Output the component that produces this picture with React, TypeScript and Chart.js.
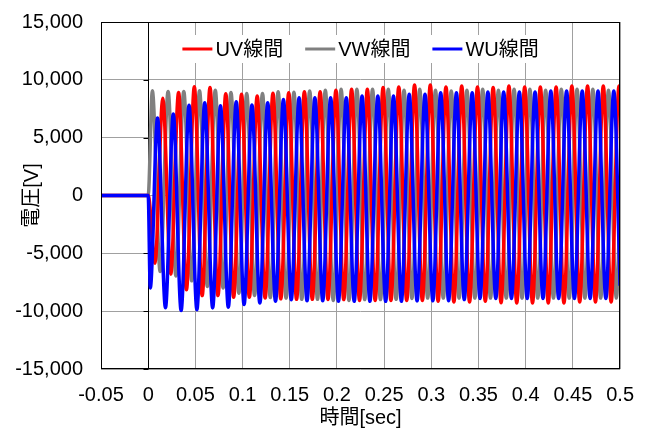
import React, { useEffect, useRef } from 'react';
import { Chart, registerables } from 'chart.js';

Chart.register(...registerables);

const FONT = "'Liberation Sans', 'Noto Sans CJK JP', Arial, sans-serif";

const seriesLabels = ['UV線間', 'VW線間', 'WU線間'];
const seriesColors = ['#FF0000', '#808080', '#0000FF'];

const xTickLabels = ['-0.05', '0', '0.05', '0.1', '0.15', '0.2', '0.25', '0.3', '0.35', '0.4', '0.45', '0.5'];
const yTickLabels = ['-15,000', '-10,000', '-5,000', '0', '5,000', '10,000', '15,000'];
const xAxisTitle = '時間[sec]';
const yAxisTitle = '電圧[V]';

// UV line-to-line voltage: times of turning points (s) and values (V)
const uvTimes = [-0.05, 0,
  0.0072, 0.0155, 0.0239, 0.0322, 0.0405, 0.0489, 0.0572, 0.0655, 0.0739, 0.0822,
  0.0905, 0.0989, 0.1072, 0.1155, 0.1239, 0.1322, 0.1405, 0.1489, 0.1572, 0.1655,
  0.1739, 0.1822, 0.1905, 0.1989, 0.2072, 0.2155, 0.2239, 0.2322, 0.2405, 0.2489,
  0.2572, 0.2655, 0.2739, 0.2822, 0.2905, 0.2989, 0.3072, 0.3155, 0.3239, 0.3322,
  0.3405, 0.3489, 0.3572, 0.3655, 0.3739, 0.3822, 0.3905, 0.3989, 0.4072, 0.4155,
  0.4239, 0.4322, 0.4405, 0.4489, 0.4572, 0.4655, 0.4739, 0.4822, 0.4905, 0.4989,
  0.5];
const uvValues = [0, 0,
  -5850, 8400, -6800, 8900, -8150, 9400, -8650, 9330, -8650, 8800,
  -8800, 8750, -8800, 8600, -8870, 8840, -8930, 8890, -8980, 8980,
  -8980, 8980, -8990, 9100, -9000, 9180, -9080, 9180, -9080, 9330,
  -9080, 9390, -9080, 9560, -9080, 9560, -9150, 9390, -9200, 9470,
  -9200, 9390, -9150, 9330, -9280, 9470, -9300, 9390, -9300, 9390,
  -9300, 9390, -9300, 9470, -9200, 9470, -9200, 9470, -9200, 9470,
  9460];

// VW line-to-line voltage
const vwTimes = [-0.05, 0,
  0.0044, 0.0127, 0.0211, 0.0294, 0.0377, 0.0461, 0.0544, 0.0627, 0.0711, 0.0794,
  0.0877, 0.0961, 0.1044, 0.1127, 0.1211, 0.1294, 0.1377, 0.1461, 0.1544, 0.1627,
  0.1711, 0.1794, 0.1877, 0.1961, 0.2044, 0.2127, 0.2211, 0.2294, 0.2377, 0.2461,
  0.2544, 0.2627, 0.2711, 0.2794, 0.2877, 0.2961, 0.3044, 0.3127, 0.3211, 0.3294,
  0.3377, 0.3461, 0.3544, 0.3627, 0.3711, 0.3794, 0.3877, 0.3961, 0.4044, 0.4127,
  0.4211, 0.4294, 0.4377, 0.4461, 0.4544, 0.4627, 0.4711, 0.4794, 0.4877, 0.4961,
  0.5];
const vwValues = [0, 0,
  9050, -6580, 9000, -6950, 9000, -7380, 9050, -7870, 9100, -8000,
  8900, -8450, 8820, -8650, 8820, -8820, 8960, -8870, 8920, -8980,
  9040, -8980, 9100, -9080, 9180, -9080, 9180, -9000, 9180, -9000,
  9180, -8980, 9100, -8900, 9180, -8870, 9100, -8870, 9040, -8870,
  9100, -8870, 9180, -8870, 9100, -8870, 9180, -8870, 9180, -8870,
  9100, -8870, 9180, -8870, 9180, -8870, 9180, -8870, 9100, -8870,
  -750];

// WU line-to-line voltage
const wuTimes = [-0.05, 0,
  0.0022, 0.0099, 0.0183, 0.0266, 0.0349, 0.0433, 0.0516, 0.0599, 0.0683, 0.0766,
  0.0849, 0.0933, 0.1016, 0.1099, 0.1183, 0.1266, 0.1349, 0.1433, 0.1516, 0.1599,
  0.1683, 0.1766, 0.1849, 0.1933, 0.2016, 0.2099, 0.2183, 0.2266, 0.2349, 0.2433,
  0.2516, 0.2599, 0.2683, 0.2766, 0.2849, 0.2933, 0.3016, 0.3099, 0.3183, 0.3266,
  0.3349, 0.3433, 0.3516, 0.3599, 0.3683, 0.3766, 0.3849, 0.3933, 0.4016, 0.4099,
  0.4183, 0.4266, 0.4349, 0.4433, 0.4516, 0.4599, 0.4683, 0.4766, 0.4849, 0.4933,
  0.5];
const wuValues = [0, 0,
  -8000, 6700, -9700, 7050, -9950, 7800, -9870, 8020, -9720, 7750,
  -9660, 8100, -9430, 7820, -9300, 8020, -9150, 8300, -9010, 8450,
  -9100, 8450, -9100, 8450, -9150, 8450, -9150, 8600, -9150, 8600,
  -9150, 8600, -9150, 8750, -9100, 8750, -9100, 8880, -9100, 8880,
  -9000, 8880, -8900, 8950, -8900, 8950, -8900, 8950, -8900, 8950,
  -8900, 9030, -8900, 9030, -8900, 9030, -8900, 9030, -8900, 9030,
  -7800];

const seriesTimes = [uvTimes, vwTimes, wuTimes];
const seriesValues = [uvValues, vwValues, wuValues];
const drawOrder = [1, 2, 0];

const framePlugin = {
  id: 'frame',
  beforeDatasetsDraw(chart: any) {
    const { ctx, chartArea: a, scales } = chart;
    const xs = scales.x;
    const ys = scales.y;
    const x0 = Math.round(xs.getPixelForValue(0)) + 0.5;
    ctx.save();
    ctx.strokeStyle = '#000000';
    ctx.lineWidth = 1;
    ctx.beginPath();
    ctx.moveTo(x0, a.top);
    ctx.lineTo(x0, a.bottom);
    ys.ticks.forEach((t: any) => {
      const py = Math.round(ys.getPixelForValue(t.value)) + 0.5;
      ctx.moveTo(x0 - 5, py);
      ctx.lineTo(x0, py);
    });
    ctx.stroke();
    ctx.restore();
  },
  afterDraw(chart: any) {
    const { ctx, chartArea: a } = chart;
    ctx.save();
    ctx.strokeStyle = '#000000';
    ctx.lineWidth = 1;
    ctx.strokeRect(Math.round(a.left) + 0.5, Math.round(a.top) + 0.5,
      Math.round(a.right - a.left) - 1, Math.round(a.bottom - a.top) - 1);

    // legend
    ctx.font = `20px ${FONT}`;
    const lineLen = 30;
    const textGap = 3;
    const itemGap = 22;
    const widths = seriesLabels.map((l) => ctx.measureText(l).width);
    const total = widths.reduce((s, w) => s + lineLen + textGap + w, 0) + itemGap * (seriesLabels.length - 1);
    let cx = (a.left + a.right) / 2 - total / 2;
    const cy = a.top + 27;
    ctx.fillStyle = '#FFFFFF';
    ctx.fillRect(cx - 14, cy - 14, total + 28, 28);
    ctx.textBaseline = 'middle';
    ctx.textAlign = 'left';
    seriesLabels.forEach((label, i) => {
      ctx.strokeStyle = seriesColors[i];
      ctx.lineWidth = 3;
      ctx.beginPath();
      ctx.moveTo(cx, cy);
      ctx.lineTo(cx + lineLen, cy);
      ctx.stroke();
      ctx.fillStyle = '#000000';
      ctx.fillText(label, cx + lineLen + textGap, cy + 1);
      cx += lineLen + textGap + widths[i] + itemGap;
    });
    ctx.restore();
  },
};

export default function App() {
  const canvasRef = useRef<HTMLCanvasElement | null>(null);

  useEffect(() => {
    document.body.style.margin = '0';
    const canvas = canvasRef.current;
    if (!canvas) return;
    const datasets = seriesLabels.map((label, i) => ({
      label,
      data: seriesTimes[i].map((t, j) => ({ x: t, y: seriesValues[i][j] })),
      borderColor: seriesColors[i],
      backgroundColor: seriesColors[i],
      borderWidth: 3.5,
      pointRadius: 0,
      cubicInterpolationMode: 'monotone' as const,
      fill: false,
      order: drawOrder[i],
    }));
    const chart = new Chart(canvas, {
      type: 'line',
      data: { datasets },
      options: {
        animation: false,
        responsive: false,
        maintainAspectRatio: false,
        devicePixelRatio: 1,
        layout: { padding: { left: 0, right: 27, top: 22, bottom: 0 } },
        plugins: {
          legend: { display: false },
          tooltip: { enabled: false },
        },
        scales: {
          x: {
            type: 'linear',
            min: -0.05,
            max: 0.5,
            afterFit: (s: any) => { s.height = 63; },
            ticks: {
              stepSize: 0.05,
              padding: 14,
              color: '#000000',
              font: { family: FONT, size: 20 },
              maxRotation: 0,
              autoSkip: false,
              callback: (_v: any, idx: number) => xTickLabels[idx],
            },
            grid: { color: '#A0A0A0', drawTicks: false, lineWidth: 1 },
            border: { display: false },
            title: {
              display: true,
              text: xAxisTitle,
              color: '#000000',
              font: { family: FONT, size: 20 },
              padding: 2,
            },
          },
          y: {
            type: 'linear',
            min: -15000,
            max: 15000,
            afterFit: (s: any) => { s.width = 101; },
            ticks: {
              stepSize: 5000,
              padding: 0,
              color: '#000000',
              font: { family: FONT, size: 20 },
              callback: (_v: any, idx: number) => yTickLabels[idx],
            },
            grid: {
              color: '#A0A0A0',
              drawTicks: true,
              tickLength: 18,
              tickColor: 'rgba(0,0,0,0)',
              lineWidth: 1,
            },
            border: { display: false },
            title: {
              display: true,
              text: yAxisTitle,
              color: '#000000',
              font: { family: FONT, size: 20 },
              padding: 20,
            },
          },
        },
      },
      plugins: [framePlugin],
    });
    return () => chart.destroy();
  }, []);

  return (
    <div style={{ width: 648, height: 432 }}>
      <canvas ref={canvasRef} width={648} height={432} style={{ width: 648, height: 432 }} />
    </div>
  );
}
